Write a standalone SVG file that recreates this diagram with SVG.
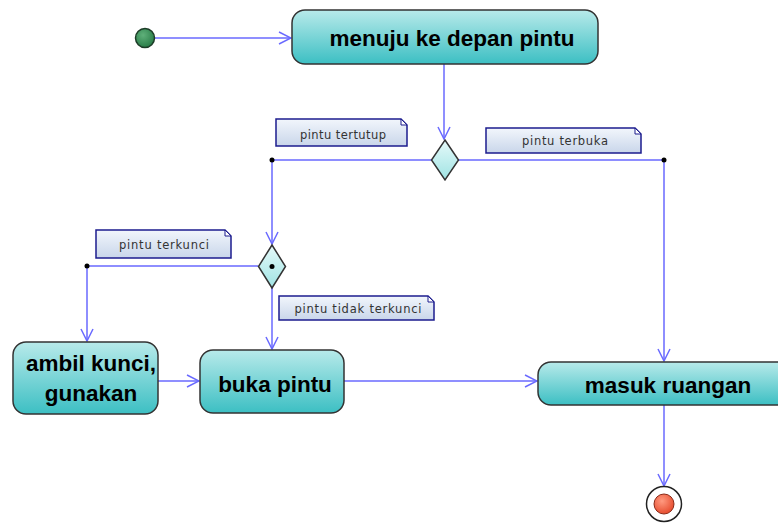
<svg xmlns="http://www.w3.org/2000/svg" width="778" height="523" viewBox="0 0 778 523">
  <defs>
    <linearGradient id="actFill" x1="0" y1="0" x2="0" y2="1">
      <stop offset="0" stop-color="#b8eaea"/>
      <stop offset="1" stop-color="#3cbfc3"/>
    </linearGradient>
    <linearGradient id="noteFill" x1="0" y1="0" x2="0" y2="1">
      <stop offset="0" stop-color="#f2f6fc"/>
      <stop offset="1" stop-color="#c9d6ea"/>
    </linearGradient>
    <linearGradient id="decFill" x1="0" y1="0" x2="0" y2="1">
      <stop offset="0" stop-color="#e6fafa"/>
      <stop offset="1" stop-color="#9fe3e3"/>
    </linearGradient>
    <radialGradient id="startFill" cx="0.4" cy="0.35" r="0.7">
      <stop offset="0" stop-color="#5fb07a"/>
      <stop offset="1" stop-color="#267a45"/>
    </radialGradient>
    <radialGradient id="endFill" cx="0.4" cy="0.35" r="0.7">
      <stop offset="0" stop-color="#ff9a80"/>
      <stop offset="1" stop-color="#e5482a"/>
    </radialGradient>
    <marker id="open" viewBox="0 0 14 14" refX="13" refY="7" markerWidth="14" markerHeight="14" markerUnits="userSpaceOnUse" orient="auto">
      <path d="M1,1 L13,7 L1,13" fill="none" stroke="#6a6aff" stroke-width="1.5"/>
    </marker>
  </defs>
  <style>
    .act { fill: url(#actFill); stroke: #333; stroke-width: 1.5; }
    .actText { font-family: "Liberation Sans", Arial, sans-serif; font-weight: bold; font-size: 22.5px; fill: #000; text-anchor: middle; }
    .note { fill: url(#noteFill); stroke: #1c1c8e; stroke-width: 1.5; }
    .fold { fill: #ffffff; stroke: #1c1c8e; stroke-width: 1; }
    .noteText { font-family: "DejaVu Sans", Verdana, sans-serif; font-size: 11.5px; fill: #333; text-anchor: middle; }
    .flow { fill: none; stroke: #6a6aff; stroke-width: 1.5; marker-end: url(#open); }
    .dot { fill: #000; }
    .dec { fill: url(#decFill); stroke: #333; stroke-width: 1.5; }
  </style>

  <rect width="778" height="523" fill="#ffffff"/>

  <!-- connectors -->
  <g id="connectors">
    <path class="flow" d="M155,38 H291"/>
    <path class="flow" d="M444,64 V139"/>
    <path class="flow" d="M431,160 H272 V244"/>
    <path class="flow" d="M458,160 H664 V361"/>
    <path class="flow" d="M258,266 H87 V341"/>
    <path class="flow" d="M272,288 V349"/>
    <path class="flow" d="M158,381 H199"/>
    <path class="flow" d="M344,381 H537"/>
    <path class="flow" d="M664,405 V486"/>
    <circle class="dot" cx="272" cy="160" r="2.5"/>
    <circle class="dot" cx="664" cy="160" r="2.5"/>
    <circle class="dot" cx="87" cy="266" r="2.5"/>
  </g>

  <!-- start -->
  <g id="start">
    <circle cx="145" cy="38" r="9.5" fill="url(#startFill)" stroke="#1d3d28" stroke-width="1.5"/>
  </g>

  <!-- activities -->
  <g id="menuju">
    <rect class="act" x="292" y="10" width="306" height="54" rx="13"/>
    <text class="actText" x="452" y="46">menuju ke depan pintu</text>
  </g>
  <g id="ambilKunci">
    <rect class="act" x="13" y="342" width="145" height="72" rx="13"/>
    <text class="actText" x="91" y="371">ambil kunci,</text>
    <text class="actText" x="91" y="401">gunakan</text>
  </g>
  <g id="bukaPintu">
    <rect class="act" x="200" y="350" width="144" height="63" rx="13"/>
    <text class="actText" x="275" y="392">buka pintu</text>
  </g>
  <g id="masukRuangan">
    <rect class="act" x="538" y="362" width="260" height="43" rx="13"/>
    <text class="actText" x="668" y="393">masuk ruangan</text>
  </g>

  <!-- decisions -->
  <g id="decision1">
    <path class="dec" d="M445,140 L458.5,160 L445,180 L431.5,160 Z"/>
  </g>
  <g id="decision2">
    <path class="dec" d="M272,245 L285.5,266.5 L272,288 L258.5,266.5 Z"/>
    <circle class="dot" cx="272" cy="266.5" r="2.5"/>
  </g>

  <!-- guard notes -->
  <g id="noteTertutup">
    <path class="note" d="M276,119 H401 L407,125 V146 H276 Z"/>
    <path class="fold" d="M401,119 V125 H407 Z"/>
    <text class="noteText" x="343" y="139" textLength="86" lengthAdjust="spacing">pintu tertutup</text>
  </g>
  <g id="noteTerbuka">
    <path class="note" d="M486,128 H635 L641,134 V153 H486 Z"/>
    <path class="fold" d="M635,128 V134 H641 Z"/>
    <text class="noteText" x="565" y="145" textLength="86" lengthAdjust="spacing">pintu terbuka</text>
  </g>
  <g id="noteTerkunci">
    <path class="note" d="M96,230 H225 L231,236 V258 H96 Z"/>
    <path class="fold" d="M225,230 V236 H231 Z"/>
    <text class="noteText" x="164" y="249" textLength="90" lengthAdjust="spacing">pintu terkunci</text>
  </g>
  <g id="noteTidakTerkunci">
    <path class="note" d="M279,296 H428 L434,302 V320 H279 Z"/>
    <path class="fold" d="M428,296 V302 H434 Z"/>
    <text class="noteText" x="358" y="313" textLength="127" lengthAdjust="spacing">pintu tidak terkunci</text>
  </g>

  <!-- final -->
  <g id="final">
    <circle cx="664" cy="504" r="17.5" fill="#ffffff" stroke="#222" stroke-width="1.5"/>
    <circle cx="664" cy="504" r="10" fill="url(#endFill)" stroke="#8a2a18" stroke-width="1"/>
  </g>
</svg>
